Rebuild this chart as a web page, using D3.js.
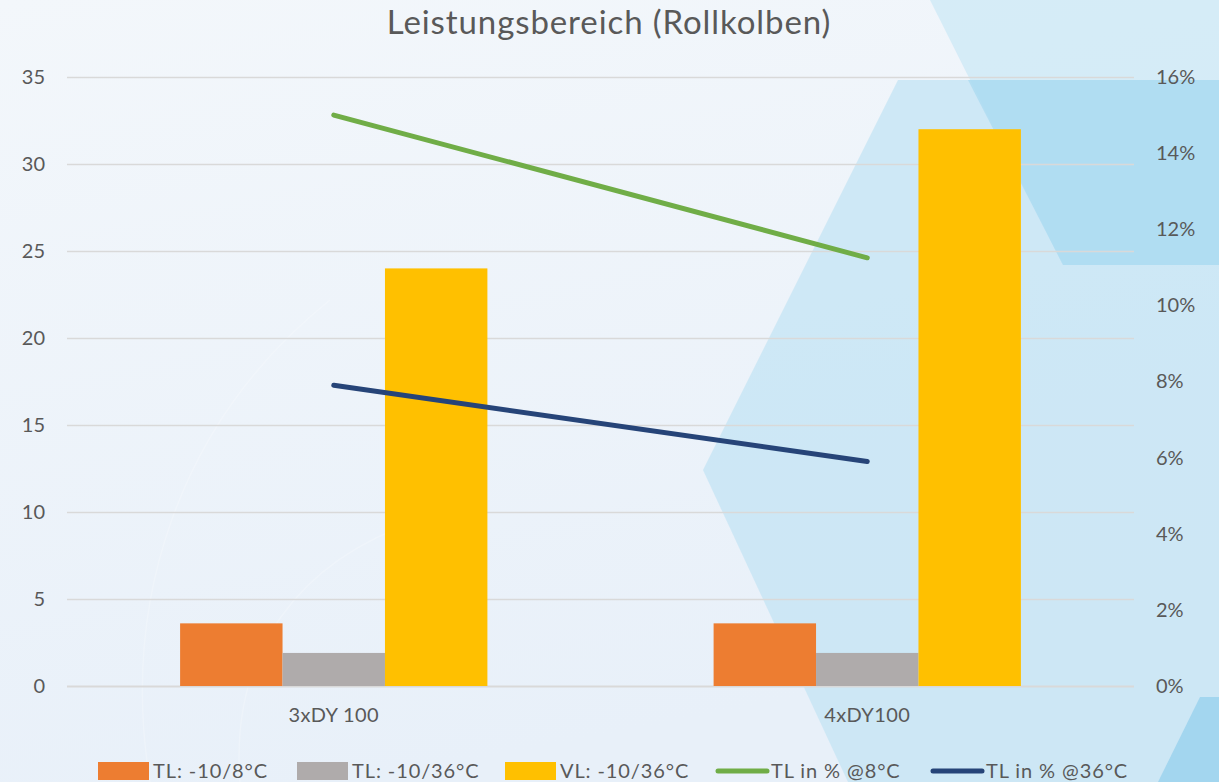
<!DOCTYPE html>
<html>
<head>
<meta charset="utf-8">
<script src="https://cdn.jsdelivr.net/npm/d3@7"></script>
<style>
  html, body { margin: 0; padding: 0; background: #eef4fa; }
  svg { display: block; }
  text { font-family: Lato, "Open Sans", sans-serif; fill: #595959; }
</style>
</head>
<body>
<svg id="chart" width="1219" height="782"></svg>
<script>
const categories = ["3xDY 100", "4xDY100"];
const seriesNames = ["TL: -10/8°C", "TL: -10/36°C", "VL: -10/36°C"];
const tl8Values = [3.6, 3.6];
const tl36Values = [1.9, 1.9];
const vl36Values = [24, 32];
const lineNames = ["TL in % @8°C", "TL in % @36°C"];
const pct8Values = [0.15, 0.1125];
const pct36Values = [0.079, 0.059];
const leftTicks = [0, 5, 10, 15, 20, 25, 30, 35];
const rightTicks = [0, 0.02, 0.04, 0.06, 0.08, 0.10, 0.12, 0.14, 0.16];
const titleText = "Leistungsbereich (Rollkolben)";

const barColors = ["#ed7d31", "#afabab", "#ffc000"];
const lineColors = ["#70ad47", "#264478"];

const W = 1219, H = 782;
const svg = d3.select("#chart");

// ---- background decoration ----
const defs = svg.append("defs");
const g0 = defs.append("linearGradient").attr("id", "bg").attr("x1", 0).attr("y1", 0).attr("x2", 0.3).attr("y2", 1);
g0.append("stop").attr("offset", 0).attr("stop-color", "#f3f7fb");
g0.append("stop").attr("offset", 1).attr("stop-color", "#e8f0f9");
svg.append("rect").attr("width", W).attr("height", H).attr("fill", "url(#bg)");

// faint white arcs at left
const arcs = svg.append("g").attr("fill", "none").attr("stroke", "#ffffff").attr("stroke-opacity", 0.22).attr("stroke-width", 1.5);
arcs.append("path").attr("d", "M 150 782 C 120 600, 180 420, 330 300");
arcs.append("path").attr("d", "M 240 782 C 230 650, 300 560, 420 520");

const bgShapes = svg.append("g");
bgShapes.append("polygon")
  .attr("points", "898,80 1219,80 1219,782 848,782 703,470")
  .attr("fill", "#c8e5f5").attr("fill-opacity", 0.85);
bgShapes.append("polygon")
  .attr("points", "930,0 1219,0 1219,265 1063,265")
  .attr("fill", "#bfe3f4").attr("fill-opacity", 0.55);
bgShapes.append("polygon")
  .attr("points", "968,80 1219,80 1219,265 1063,265")
  .attr("fill", "#a2d7f0").attr("fill-opacity", 0.6);
bgShapes.append("polygon")
  .attr("points", "1200,697 1219,697 1219,782 1158,782")
  .attr("fill", "#a3d6ef");

// ---- scales ----
const plotL = 67, plotR = 1134, plotT = 77, plotB = 686;
const x = d3.scaleBand().domain(categories).range([plotL, plotR]).paddingInner(0).paddingOuter(0);
const groupW = x.bandwidth() * 0.576;
const x1 = d3.scaleBand().domain(seriesNames)
  .range([(x.bandwidth() - groupW) / 2, (x.bandwidth() + groupW) / 2]).padding(0);
const y = d3.scaleLinear().domain([0, 35]).range([plotB, plotT]);
const y2 = d3.scaleLinear().domain([0, 0.16]).range([plotB, plotT]);

// gridlines
const grid = svg.append("g").attr("transform", `translate(${plotL},0)`)
  .call(d3.axisRight(y).tickValues(leftTicks).tickSize(plotR - plotL).tickFormat(""));
grid.select(".domain").remove();
grid.selectAll("line").attr("stroke", "#d9d9d9").attr("stroke-width", 1.5);
grid.selectAll("line").filter(d => d === 0).attr("stroke-width", 2);

// left axis
const ax = svg.append("g").attr("transform", `translate(45,0)`)
  .call(d3.axisLeft(y).tickValues(leftTicks).tickSize(0).tickPadding(0).tickFormat(d3.format("d")));
ax.select(".domain").remove();
ax.selectAll("text").style("font-size", "20px").style("font-family", "Lato, sans-serif").attr("fill", "#595959");

// right axis
const ay = svg.append("g").attr("transform", `translate(1156,0)`)
  .call(d3.axisRight(y2).tickValues(rightTicks).tickSize(0).tickPadding(0).tickFormat(d3.format(".0%")));
ay.select(".domain").remove();
ay.selectAll("text").style("font-size", "20px").style("font-family", "Lato, sans-serif").attr("fill", "#595959");

// category axis
const axX = svg.append("g").attr("transform", `translate(0,${plotB})`)
  .call(d3.axisBottom(x).tickSize(0).tickPadding(22));
axX.select(".domain").remove();
axX.selectAll("text").style("font-size", "20px").style("letter-spacing", "0.4px")
  .style("font-family", "Lato, sans-serif").attr("fill", "#595959");

// bars
const barData = categories.map((c, i) => ({
  cat: c,
  vals: [
    { name: seriesNames[0], v: tl8Values[i], color: barColors[0] },
    { name: seriesNames[1], v: tl36Values[i], color: barColors[1] },
    { name: seriesNames[2], v: vl36Values[i], color: barColors[2] }
  ]
}));
svg.append("g").selectAll("g").data(barData).join("g")
  .attr("transform", d => `translate(${x(d.cat)},0)`)
  .selectAll("rect").data(d => d.vals).join("rect")
  .attr("x", d => x1(d.name))
  .attr("width", x1.bandwidth())
  .attr("y", d => y(d.v))
  .attr("height", d => y(0) - y(d.v))
  .attr("fill", d => d.color);

// lines
const lineGen = d3.line().x(d => x(d.cat) + x.bandwidth() / 2).y(d => y2(d.v));
[pct8Values, pct36Values].forEach((vals, k) => {
  svg.append("path")
    .datum(categories.map((c, i) => ({ cat: c, v: vals[i] })))
    .attr("d", lineGen)
    .attr("fill", "none")
    .attr("stroke", lineColors[k])
    .attr("stroke-width", 5)
    .attr("stroke-linecap", "round");
});

// title
svg.append("text")
  .attr("x", 609).attr("y", 34)
  .attr("text-anchor", "middle")
  .style("font-size", "33px")
  .style("letter-spacing", "0.9px")
  .style("font-family", "Lato, sans-serif")
  .attr("fill", "#595959")
  .text(titleText);

// legend
const legendItems = [
  { name: seriesNames[0], color: barColors[0], type: "rect", x: 98 },
  { name: seriesNames[1], color: barColors[1], type: "rect", x: 297 },
  { name: seriesNames[2], color: barColors[2], type: "rect", x: 505 },
  { name: lineNames[0], color: lineColors[0], type: "line", x: 716 },
  { name: lineNames[1], color: lineColors[1], type: "line", x: 931 }
];
const lg = svg.append("g");
const li = lg.selectAll("g").data(legendItems).join("g")
  .attr("transform", d => `translate(${d.x},771)`);
li.filter(d => d.type === "rect").append("rect")
  .attr("x", 0).attr("y", -9).attr("width", 51).attr("height", 18).attr("fill", d => d.color);
li.filter(d => d.type === "line").append("line")
  .attr("x1", 2).attr("x2", 51).attr("y1", 0).attr("y2", 0)
  .attr("stroke", d => d.color).attr("stroke-width", 5).attr("stroke-linecap", "round");
li.append("text").attr("x", 55).attr("y", 7)
  .style("font-size", "20px").style("letter-spacing", "0.9px").style("font-family", "Lato, sans-serif")
  .attr("fill", "#595959")
  .text(d => d.name);
</script>
</body>
</html>
